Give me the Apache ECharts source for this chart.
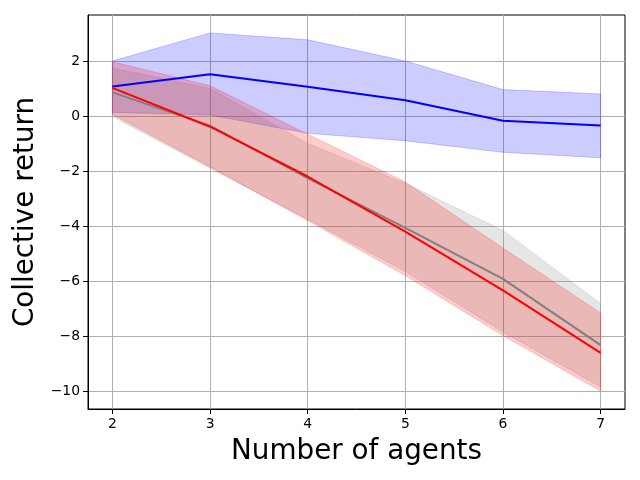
<!DOCTYPE html>
<html lang="en">
<head>
<meta charset="UTF-8">
<title>Collective return</title>
<script src="https://cdn.jsdelivr.net/npm/echarts@6/dist/echarts.min.js"></script>
<style>
  *{margin:0;padding:0}
  html,body{width:100%;height:100%;background:#fff}
  #main{width:640px;height:480px}
</style>
</head>
<body>
<div id="main"></div>
<script>
var agents = [2, 3, 4, 5, 6, 7];

var blueMean  = [1.07, 1.52, 1.06, 0.57, -0.17, -0.35];
var blueUpper = [2.00, 3.02, 2.77, 2.00, 0.96, 0.80];
var blueLower = [0.13, 0.04, -0.63, -0.90, -1.32, -1.52];

var grayMean  = [0.86, -0.35, -2.26, -4.07, -5.92, -8.33];
var grayUpper = [1.74, 1.00, -1.00, -2.45, -4.16, -6.82];
var grayLower = [-0.02, -1.90, -3.75, -5.65, -7.85, -9.85];

var redMean  = [1.02, -0.39, -2.20, -4.20, -6.34, -8.61];
var redUpper = [1.97, 1.10, -0.66, -2.40, -4.80, -7.16];
var redLower = [0.06, -1.85, -3.80, -5.80, -7.98, -10.00];

var xTicks = [2, 3, 4, 5, 6, 7];
var yTicks = [-10, -8, -6, -4, -2, 0, 2];

var chart = echarts.init(document.getElementById('main'), null, {renderer: 'canvas'});

function pairs(ys) {
    return agents.map(function (x, i) { return [x, ys[i]]; });
}

// shaded band between lower and upper, drawn as one polygon
function band(name, rgb, lower, upper) {
    var rgba = 'rgba(' + rgb + ',0.2)';
    return {
        name: name + ' band',
        type: 'custom',
        z: 2,
        data: agents.map(function (x, i) { return [x, lower[i], upper[i]]; }),
        encode: {x: 0, y: [1, 2]},
        renderItem: function (params, api) {
            if (params.dataIndex !== 0) return;
            var pts = [];
            for (var i = 0; i < agents.length; i++) {
                pts.push(api.coord([agents[i], upper[i]]));
            }
            for (var j = agents.length - 1; j >= 0; j--) {
                pts.push(api.coord([agents[j], lower[j]]));
            }
            return {
                type: 'polygon',
                shape: {points: pts},
                style: {fill: rgba, stroke: rgba, lineWidth: 1}
            };
        }
    };
}

function meanLine(name, color, ys) {
    return {
        name: name,
        type: 'line',
        symbol: 'none',
        z: 5,
        lineStyle: {color: color, width: 2},
        data: pairs(ys)
    };
}

var all = blueUpper.concat(blueLower, grayUpper, grayLower, redUpper, redLower);
var yHi = Math.max.apply(null, all), yLo = Math.min.apply(null, all);
var pad = (yHi - yLo) * 0.05;

var minus = function (v) { return String(v).replace('-', '\u2212'); };
var font = 'DejaVu Sans';

var series = [
    band('blue', '0,0,255', blueLower, blueUpper),
    band('gray', '128,128,128', grayLower, grayUpper),
    band('red', '255,0,0', redLower, redUpper),
    meanLine('blue', '#0000ff', blueMean),
    meanLine('gray', '#808080', grayMean),
    meanLine('red', '#ff0000', redMean)
];

var option = {
    animation: false,
    backgroundColor: '#fff',
    grid: {
        left: 88, right: 15, top: 15, bottom: 71,
        show: true, borderColor: '#000', borderWidth: 1, backgroundColor: 'transparent'
    },
    xAxis: {
        type: 'value',
        min: 1.75,
        max: 7.25,
        name: 'Number of agents',
        nameLocation: 'middle',
        nameGap: 29,
        nameTextStyle: {fontFamily: font, fontSize: 27.8, color: '#000'},
        axisLine: {show: true, onZero: false, lineStyle: {color: '#000', width: 1}},
        axisTick: {show: true, inside: false, length: 5, customValues: xTicks, lineStyle: {color: '#000'}},
        axisLabel: {customValues: xTicks, fontFamily: font, fontSize: 13.9, color: '#000', margin: 8},
        splitLine: {show: true, lineStyle: {color: '#b0b0b0', width: 1}}
    },
    yAxis: {
        type: 'value',
        min: yLo - pad,
        max: yHi + pad,
        name: 'Collective return',
        nameLocation: 'middle',
        nameRotate: 90,
        nameGap: 43,
        nameTextStyle: {fontFamily: font, fontSize: 27.8, color: '#000'},
        axisLine: {show: true, onZero: false, lineStyle: {color: '#000', width: 1}},
        axisTick: {show: true, inside: false, length: 5, customValues: yTicks, lineStyle: {color: '#000'}},
        axisLabel: {customValues: yTicks, formatter: minus, fontFamily: font, fontSize: 13.9, color: '#000', margin: 8},
        splitLine: {show: true, lineStyle: {color: '#b0b0b0', width: 1}}
    },
    series: series
};
chart.setOption(option);
</script>
</body>
</html>
